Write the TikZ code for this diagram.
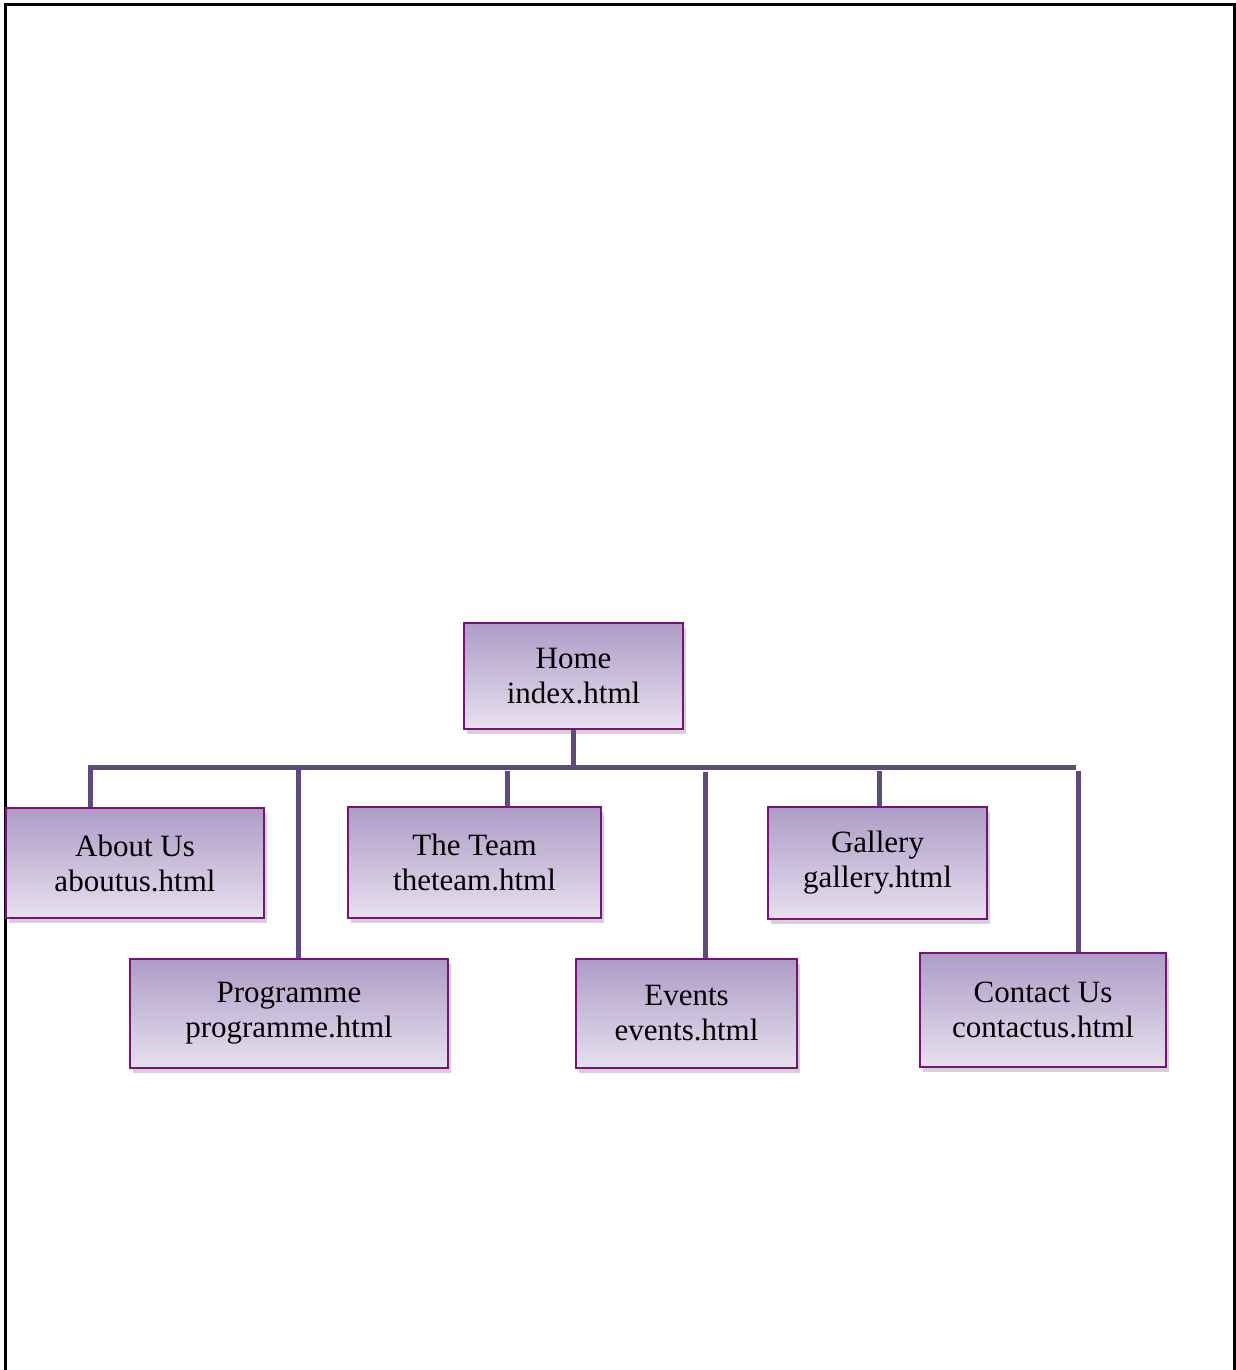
\documentclass[tikz,border=0pt]{standalone}
\usepackage{fontspec}
\setmainfont{Liberation Serif}
\usetikzlibrary{shadows}
\definecolor{boxtop}{RGB}{174,156,198}
\definecolor{boxbot}{RGB}{230,224,238}
\definecolor{boxline}{RGB}{122,16,122}
\definecolor{busline}{RGB}{94,74,126}

\begin{document}
\begin{tikzpicture}[x=1pt,y=-1pt,
    page/.style={draw, rectangle, align=center, line width=1.5pt, draw=boxline,
      top color=boxtop, bottom color=boxbot, inner sep=0pt,
      font=\fontsize{31}{35}\selectfont,
      drop shadow={shadow xshift=3pt, shadow yshift=-5pt, opacity=.35}},
    bus/.style={line width=5pt, busline}]
      \useasboundingbox (0,0) rectangle (1236,1370);
      \draw[line width=3pt] (5,1380) -- (5,5) -- (1234,5) -- (1234,1380);

      \node[page, minimum width=219, minimum height=106] (home) at (573.5,676) {Home\\index.html};

      \node[page, minimum width=258, minimum height=110] (about)   at (135,863)    {About Us\\aboutus.html};
      \node[page, minimum width=253, minimum height=111] (team)    at (474.5,862.5) {The Team\\theteam.html};
      \node[page, minimum width=219, minimum height=112] (gallery) at (877.5,863)  {Gallery\\gallery.html};

      \node[page, minimum width=318, minimum height=109] (prog)    at (289,1013.5)  {Programme\\programme.html};
      \node[page, minimum width=221, minimum height=109] (events)  at (686.5,1013.5) {Events\\events.html};
      \node[page, minimum width=246, minimum height=114] (contact) at (1043,1010)   {Contact Us\\contactus.html};

      \coordinate (busL) at (90,767);
      \coordinate (busR) at (1076,767);

      \draw[bus] (home.south) -- (home.south |- busL);
      \draw[bus] (busL) -- (busR);

      \draw[bus] ([yshift=2.5pt]busL) -- (busL |- about.north);
      \draw[bus] ([xshift=9pt]prog.north |- busL) -- ([xshift=9pt]prog.north);
      \draw[bus] ([xshift=32.5pt, yshift=-4pt]team.north |- busL) -- ([xshift=32.5pt]team.north);
      \draw[bus] ([xshift=18.5pt, yshift=-5pt]events.north |- busL) -- ([xshift=18.5pt]events.north);
      \draw[bus] ([xshift=1.5pt, yshift=-4pt]gallery.north |- busL) -- ([xshift=1.5pt]gallery.north);
      \draw[bus] ([xshift=35pt, yshift=-4pt]contact.north |- busL) -- ([xshift=35pt]contact.north);
    \end{tikzpicture}
\end{document}
